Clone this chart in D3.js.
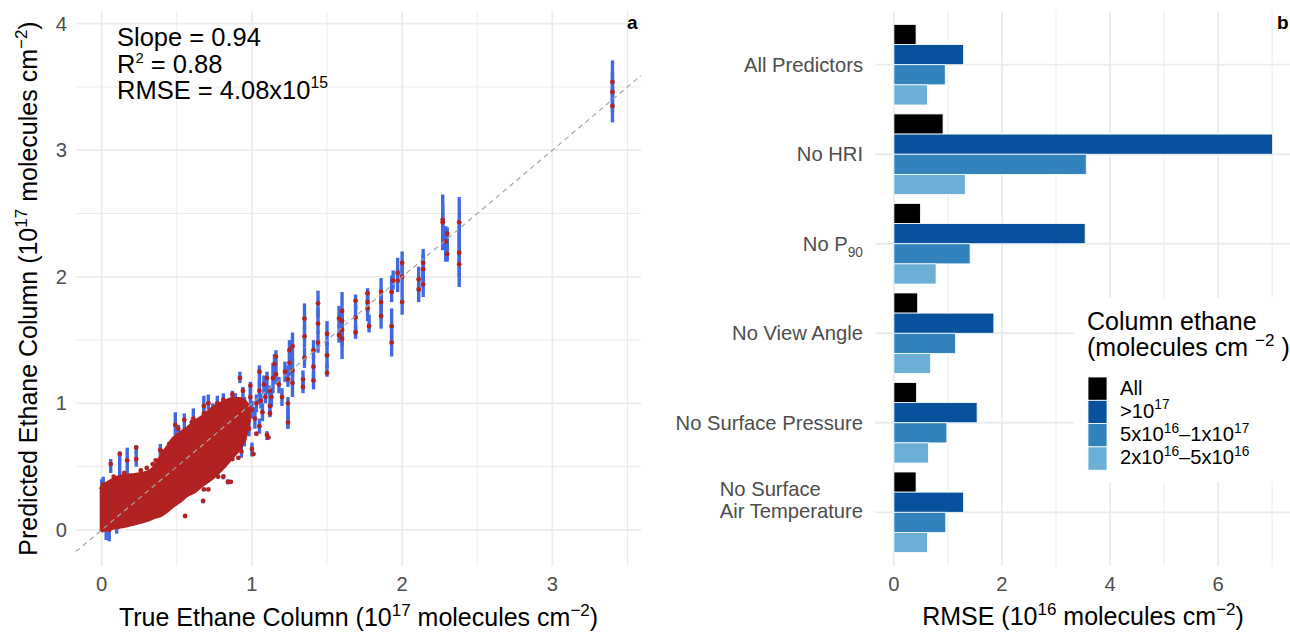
<!DOCTYPE html>
<html>
<head>
<meta charset="utf-8">
<script src="https://cdn.jsdelivr.net/npm/d3@7"></script>
<style>
  body { margin: 0; background: #fff; }
  svg { display: block; font-family: "Liberation Sans", Arial, Helvetica, sans-serif; }
</style>
</head>
<body>
<svg id="chart" width="1290" height="632"></svg>
<script>
// ---- panel a data ----
// dense cloud of points near the origin, as an envelope: x, upper edge, lower edge
const cloudX  = [-0.005, 0.005, 0.03, 0.07, 0.12, 0.17, 0.22, 0.27, 0.32, 0.35, 0.39, 0.43, 0.47, 0.52, 0.57, 0.62, 0.67, 0.72, 0.77, 0.82, 0.87, 0.92, 0.955, 0.985];
const cloudHi = [0.30, 0.355, 0.37, 0.40, 0.425, 0.435, 0.44, 0.45, 0.47, 0.50, 0.58, 0.65, 0.72, 0.77, 0.81, 0.86, 0.90, 0.95, 0.99, 1.02, 1.04, 1.04, 1.02, 0.97];
const cloudLo = [0.00, -0.01, 0.00, 0.01, 0.02, 0.03, 0.045, 0.06, 0.08, 0.095, 0.11, 0.14, 0.18, 0.22, 0.27, 0.30, 0.35, 0.39, 0.44, 0.50, 0.57, 0.64, 0.72, 0.86];

// separate points: [true, predicted, bar low, bar high]
const highPts = [
  [3.40, 3.54, 3.38, 3.71], [3.40, 3.46, 3.30, 3.62], [3.40, 3.35, 3.22, 3.50],
  [2.27, 2.45, 2.25, 2.65], [2.27, 2.43, 2.21, 2.58], [2.29, 2.28, 2.12, 2.40],
  [2.30, 2.34, 2.18, 2.39], [2.30, 2.18, 2.12, 2.30],
  [2.38, 2.43, 2.25, 2.63], [2.38, 2.19, 2.00, 2.40], [2.38, 2.10, 1.92, 2.25],
  [2.14, 2.11, 1.98, 2.22], [2.14, 2.06, 1.92, 2.18], [2.14, 1.94, 1.84, 2.05],
  [2.11, 1.98, 1.88, 2.08], [2.11, 1.90, 1.80, 2.00],
  [2.00, 2.11, 1.98, 2.20], [2.00, 2.00, 1.88, 2.10], [2.00, 1.80, 1.70, 1.88],
  [1.97, 2.03, 1.95, 2.15], [1.97, 1.97, 1.88, 2.06],
  [1.94, 1.97, 1.90, 2.05], [1.93, 1.88, 1.80, 2.01], [1.93, 1.61, 1.50, 1.75], [1.93, 1.48, 1.37, 1.60],
  [1.86, 1.88, 1.78, 1.99], [1.86, 1.80, 1.70, 1.90], [1.86, 1.69, 1.59, 1.80],
  [1.77, 1.87, 1.78, 1.91], [1.77, 1.80, 1.72, 1.88], [1.77, 1.75, 1.65, 1.85], [1.78, 1.61, 1.56, 1.70],
  [1.69, 1.81, 1.74, 1.86], [1.69, 1.68, 1.56, 1.78], [1.69, 1.56, 1.51, 1.62],
  [1.60, 1.73, 1.63, 1.88], [1.60, 1.65, 1.55, 1.75], [1.60, 1.58, 1.45, 1.70], [1.60, 1.51, 1.35, 1.60],
  [1.58, 1.67, 1.60, 1.77], [1.58, 1.54, 1.48, 1.62]
];
const midPts = [
  [1.50, 1.55, 1.45, 1.65], [1.50, 1.38, 1.28, 1.48], [1.50, 1.24, 1.21, 1.32],
  [1.44, 1.79, 1.68, 1.89], [1.44, 1.63, 1.55, 1.75], [1.44, 1.48, 1.40, 1.57],
  [1.41, 1.42, 1.35, 1.50], [1.41, 1.29, 1.18, 1.38], [1.41, 1.18, 1.11, 1.25],
  [1.35, 1.67, 1.58, 1.79], [1.35, 1.53, 1.44, 1.62], [1.35, 1.36, 1.28, 1.44],
  [1.34, 1.19, 1.11, 1.26], [1.34, 1.13, 1.08, 1.20],
  [1.27, 1.45, 1.30, 1.56], [1.27, 1.26, 1.16, 1.35], [1.27, 1.16, 1.05, 1.25],
  [1.25, 1.42, 1.35, 1.50], [1.25, 1.32, 1.22, 1.42], [1.24, 1.19, 1.13, 1.30],
  [1.24, 1.00, 0.80, 1.05], [1.24, 0.85, 0.80, 0.97],
  [1.16, 1.37, 1.30, 1.42], [1.16, 1.23, 1.15, 1.32], [1.15, 1.31, 1.22, 1.39],
  [1.14, 1.20, 1.08, 1.32], [1.12, 1.10, 1.05, 1.14], [1.12, 0.98, 0.92, 1.05],
  [1.10, 1.20, 1.07, 1.25], [1.09, 1.05, 1.00, 1.19],
  [1.05, 1.25, 1.13, 1.30], [1.05, 1.10, 1.00, 1.18], [1.02, 0.88, 0.80, 0.97],
  [0.99, 1.14, 1.03, 1.17], [0.99, 1.05, 0.98, 1.12], [0.94, 1.10, 1.02, 1.13],
  [0.92, 1.20, 1.16, 1.25], [0.87, 1.07, 0.99, 1.10], [0.81, 1.03, 0.95, 1.08],
  [0.77, 1.00, 0.95, 1.06], [0.71, 1.00, 0.95, 1.07], [0.68, 0.98, 0.92, 1.06],
  [1.12, 0.92, 0.89, 0.95], [1.10, 0.75, 0.71, 0.78], [1.00, 0.64, 0.58, 0.69],
  [0.83, 0.95, 0.85, 1.03], [0.86, 0.90, 0.82, 0.98], [0.89, 1.00, 0.93, 1.08],
  [0.95, 0.98, 0.90, 1.05], [0.97, 0.90, 0.84, 0.97], [1.00, 0.95, 0.88, 1.02],
  [1.03, 1.00, 0.93, 1.07], [1.07, 0.93, 0.86, 1.00], [1.08, 1.15, 1.08, 1.22],
  [1.13, 1.05, 0.97, 1.12], [1.18, 1.15, 1.08, 1.21], [1.20, 1.05, 0.98, 1.12],
  [1.22, 1.25, 1.17, 1.33], [0.90, 0.75, 0.68, 0.82], [0.95, 0.72, 0.66, 0.78],
  [0.93, 0.62, 0.57, 0.68], [1.05, 0.82, 0.76, 0.88], [0.80, 0.58, 0.52, 0.64],
  [0.76, 0.50, 0.46, 0.55], [0.98, 0.80, 0.74, 0.86], [1.06, 1.02, 0.96, 1.08]
];
const lowPts = [
  [0.00, 0.33, 0.28, 0.40], [0.01, 0.36, 0.30, 0.42], [0.03, 0.02, -0.08, 0.10],
  [0.05, 0.00, -0.09, 0.08], [0.10, 0.03, -0.03, 0.08],
  [0.06, 0.52, 0.45, 0.56], [0.12, 0.60, 0.42, 0.62], [0.17, 0.55, 0.43, 0.65],
  [0.23, 0.65, 0.60, 0.67], [0.23, 0.56, 0.50, 0.62], [0.39, 0.63, 0.58, 0.68],
  [0.51, 0.80, 0.77, 0.83], [0.49, 0.83, 0.75, 0.93], [0.55, 0.87, 0.78, 0.92],
  [0.60, 0.85, 0.80, 0.87], [0.61, 0.88, 0.80, 0.96], [0.68, 0.92, 0.87, 0.97],
  [0.74, 0.96, 0.91, 1.00],
  [0.84, 0.38, 0.36, 0.40], [0.81, 0.42, 0.40, 0.44], [0.675, 0.23, 0.21, 0.24]
];
// loose red dots around the cloud edge (no visible bar)
const edgeDots = [
  [0.555, 0.11], [0.71, 0.32], [0.775, 0.42], [0.91, 0.57], [1.03, 0.76], [0.86, 0.38],
  [0.68, 0.32], [0.87, 0.56], [1.01, 0.60], [1.11, 0.73], [0.30, 0.49], [0.40, 0.62],
  [0.45, 0.68], [0.92, 0.70], [0.96, 0.85], [0.97, 0.95], [0.90, 0.80], [0.93, 0.93],
  [0.26, 0.47], [0.34, 0.52], [0.36, 0.55], [0.15, 0.45], [0.08, 0.42]
];
const xTicksA = [0, 1, 2, 3];
const yTicksA = [0, 1, 2, 3, 4];

// ---- panel b data ----
const categories = ["All Predictors", "No HRI", "No P90", "No View Angle", "No Surface Pressure", "No Surface Air Temperature"];
const groups = ["All", "gt1e17", "5e16-1e17", "2e16-5e16"];
const rmseAll  = [0.41, 0.91, 0.49, 0.44, 0.42, 0.41];
const rmseHigh = [1.29, 7.01, 3.54, 1.85, 1.54, 1.29];
const rmseMid  = [0.95, 3.56, 1.41, 1.14, 0.98, 0.96];
const rmseLow  = [0.62, 1.32, 0.78, 0.68, 0.64, 0.62];
const groupColors = ["#000000", "#08519c", "#3182bd", "#6baed6"];
const xTicksB = [0, 2, 4, 6];

const svg = d3.select("#chart");
const FS_TICK = 20.2, FS_TITLE = 25;
const GRID = "#ebebeb";

// writes text with superscript / subscript pieces
function rich(textSel, parts, fs, supScale = 0.68, supRaise = 0.42) {
    let shift = 0;
    parts.forEach(p => {
        let target = 0;
        if (p[1] == "sup") target = -supRaise * fs;
        if (p[1] == "sub") target = 0.3 * fs;
        let t = textSel.append("tspan").text(p[0]).attr("dy", target - shift);
        if (p[1]) t.attr("font-size", fs * supScale);
        shift = target;
    });
    return textSel;
}

// ================= panel a =================
let xA = d3.scaleLinear().domain([-0.171, 3.59]).range([76, 641]);
let yA = d3.scaleLinear().domain([-0.285, 4.1]).range([566, 11]);

let gA = svg.append("g");
// minor grid
let minorX = [0.5, 1.5, 2.5, 3.5];
let minorY = [0.5, 1.5, 2.5, 3.5];
gA.selectAll(".mx").data(minorX).enter().append("line")
    .attr("x1", d => xA(d)).attr("x2", d => xA(d)).attr("y1", 11).attr("y2", 566)
    .attr("stroke", GRID).attr("stroke-width", 1);
gA.selectAll(".my").data(minorY).enter().append("line")
    .attr("y1", d => yA(d)).attr("y2", d => yA(d)).attr("x1", 76).attr("x2", 641)
    .attr("stroke", GRID).attr("stroke-width", 1);
// major grid
gA.selectAll(".gx").data(xTicksA).enter().append("line")
    .attr("x1", d => xA(d)).attr("x2", d => xA(d)).attr("y1", 11).attr("y2", 566)
    .attr("stroke", GRID).attr("stroke-width", 1.8);
gA.selectAll(".gy").data(yTicksA).enter().append("line")
    .attr("y1", d => yA(d)).attr("y2", d => yA(d)).attr("x1", 76).attr("x2", 641)
    .attr("stroke", GRID).attr("stroke-width", 1.8);

// tick labels
gA.selectAll(".tx").data(xTicksA).enter().append("text")
    .attr("x", d => xA(d)).attr("y", 591).attr("text-anchor", "middle")
    .attr("font-size", FS_TICK).attr("fill", "#4d4d4d").text(d => d);
gA.selectAll(".ty").data(yTicksA).enter().append("text")
    .attr("x", 67).attr("y", d => yA(d)).attr("dy", "0.35em").attr("text-anchor", "end")
    .attr("font-size", FS_TICK).attr("fill", "#4d4d4d").text(d => d);

let allPts = highPts.concat(midPts, lowPts);

// error bars
gA.selectAll(".bar").data(allPts).enter().append("line")
    .attr("x1", d => xA(d[0])).attr("x2", d => xA(d[0]))
    .attr("y1", d => yA(d[2])).attr("y2", d => yA(d[3]))
    .attr("stroke", "#4169e1").attr("stroke-width", 3.4);

// dense cloud
let cloud = cloudX.map((x, i) => [x, cloudLo[i], cloudHi[i]]);
let area = d3.area().x(d => xA(d[0])).y0(d => yA(d[1])).y1(d => yA(d[2])).curve(d3.curveMonotoneX);
gA.append("path").datum(cloud).attr("d", area).attr("fill", "#b22222")
    .attr("stroke", "#b22222").attr("stroke-width", 2.5).attr("stroke-linejoin", "round");

// points
gA.selectAll(".pt").data(allPts.concat(edgeDots)).enter().append("circle")
    .attr("cx", d => xA(d[0])).attr("cy", d => yA(d[1])).attr("r", 2.4)
    .attr("fill", "#b22222");

// 1:1 line
gA.append("line")
    .attr("x1", xA(-0.171)).attr("y1", yA(-0.171)).attr("x2", xA(3.59)).attr("y2", yA(3.59))
    .attr("stroke", "#a6a6a6").attr("stroke-width", 1.2).attr("stroke-dasharray", "5,4");

// stats text
let stats = gA.append("g").attr("font-size", 25.5).attr("fill", "#000");
stats.append("text").attr("x", 117).attr("y", 46).text("Slope = 0.94");
rich(stats.append("text").attr("x", 117).attr("y", 73), [["R", null], ["2", "sup"], [" = 0.88", null]], 25.5, 0.58, 0.4);
rich(stats.append("text").attr("x", 117).attr("y", 99), [["RMSE = 4.08x10", null], ["15", "sup"]], 25.5, 0.62, 0.42);

// axis titles
rich(gA.append("text").attr("x", 358.5).attr("y", 626).attr("text-anchor", "middle").attr("font-size", FS_TITLE),
    [["True Ethane Column (10", null], ["17", "sup"], [" molecules cm", null], ["\u22122", "sup"], [")", null]], FS_TITLE);
rich(gA.append("text").attr("transform", "translate(37,288.5) rotate(-90)").attr("text-anchor", "middle").attr("font-size", FS_TITLE),
    [["Predicted Ethane Column (10", null], ["17", "sup"], [" molecules cm", null], ["\u22122", "sup"], [")", null]], FS_TITLE);

gA.append("text").attr("x", 627).attr("y", 29).attr("font-size", 19).attr("font-weight", "bold").text("a");

// ================= panel b =================
let xB = d3.scaleLinear().domain([-0.35, 7.35]).range([875, 1291]);
let yB = d3.scalePoint().domain(categories).range([11, 566]).padding(0.6);
let step = yB.step();
let sub = d3.scaleBand().domain(groups).range([-0.45 * step, 0.45 * step]);

let gB = svg.append("g");
// grid: minor at odd values, major at ticks, category lines
gB.selectAll(".mx").data([1, 3, 5, 7]).enter().append("line")
    .attr("x1", d => xB(d)).attr("x2", d => xB(d)).attr("y1", 11).attr("y2", 566)
    .attr("stroke", GRID).attr("stroke-width", 1);
gB.selectAll(".gx").data(xTicksB).enter().append("line")
    .attr("x1", d => xB(d)).attr("x2", d => xB(d)).attr("y1", 11).attr("y2", 566)
    .attr("stroke", GRID).attr("stroke-width", 1.8);
gB.selectAll(".gy").data(categories).enter().append("line")
    .attr("y1", d => yB(d)).attr("y2", d => yB(d)).attr("x1", 875).attr("x2", 1291)
    .attr("stroke", GRID).attr("stroke-width", 1.8);

let series = [rmseAll, rmseHigh, rmseMid, rmseLow];
let barData = [];
categories.forEach((c, i) => {
    groups.forEach((g, j) => {
        barData.push({ cat: c, grp: g, val: series[j][i], color: groupColors[j] });
    });
});
gB.selectAll(".b").data(barData).enter().append("rect")
    .attr("x", xB(0))
    .attr("y", d => yB(d.cat) + sub(d.grp))
    .attr("width", d => xB(d.val) - xB(0))
    .attr("height", sub.bandwidth())
    .attr("fill", d => d.color)
    .attr("stroke", "#fff").attr("stroke-width", 0.8);

// x tick labels and title
gB.selectAll(".tx").data(xTicksB).enter().append("text")
    .attr("x", d => xB(d)).attr("y", 591).attr("text-anchor", "middle")
    .attr("font-size", FS_TICK).attr("fill", "#4d4d4d").text(d => d);
rich(gB.append("text").attr("x", 1083).attr("y", 625).attr("text-anchor", "middle").attr("font-size", FS_TITLE),
    [["RMSE (10", null], ["16", "sup"], [" molecules cm", null], ["\u22122", "sup"], [")", null]], FS_TITLE);

// category labels
let catG = gB.append("g").attr("font-size", FS_TICK).attr("fill", "#4d4d4d");
categories.forEach(c => {
    let y = yB(c);
    if (c == "No P90") {
        rich(catG.append("text").attr("x", 863).attr("y", y + 7).attr("text-anchor", "end"),
            [["No P", null], ["90", "sub"]], FS_TICK);
    } else if (c == "No Surface Air Temperature") {
        let l2 = catG.append("text").attr("y", y + 6).text("Air Temperature");
        let w = l2.node().getComputedTextLength();
        l2.attr("x", 863 - w);
        catG.append("text").attr("x", 863 - w).attr("y", y - 16).text("No Surface");
    } else {
        catG.append("text").attr("x", 863).attr("y", y + 7).attr("text-anchor", "end").text(c);
    }
});

// legend (white box over the grid)
let leg = gB.append("g");
leg.append("rect").attr("x", 1074).attr("y", 298).attr("width", 220).attr("height", 184).attr("fill", "#fff");
leg.append("text").attr("x", 1087).attr("y", 330).attr("font-size", FS_TITLE).text("Column ethane");
rich(leg.append("text").attr("x", 1087).attr("y", 356).attr("font-size", FS_TITLE),
    [["(molecules cm ", null], ["\u22122", "sup"], [" )", null]], FS_TITLE);
let legLabels = [
    [["All", null]],
    [[">10", null], ["17", "sup"]],
    [["5x10", null], ["16", "sup"], ["\u20131x10", null], ["17", "sup"]],
    [["2x10", null], ["16", "sup"], ["\u20135x10", null], ["16", "sup"]]
];
let keyH = 23.3;
groups.forEach((g, j) => {
    let top = 377 + j * keyH;
    leg.append("rect").attr("x", 1088).attr("y", top).attr("width", 19).attr("height", keyH)
        .attr("fill", groupColors[j]).attr("stroke", "#fff").attr("stroke-width", 0.8);
    rich(leg.append("text").attr("x", 1120).attr("y", top + 17.5).attr("font-size", FS_TICK).attr("fill", "#000"),
        legLabels[j], FS_TICK);
});

gB.append("text").attr("x", 1277).attr("y", 29).attr("font-size", 19).attr("font-weight", "bold").text("b");
</script>
</body>
</html>
